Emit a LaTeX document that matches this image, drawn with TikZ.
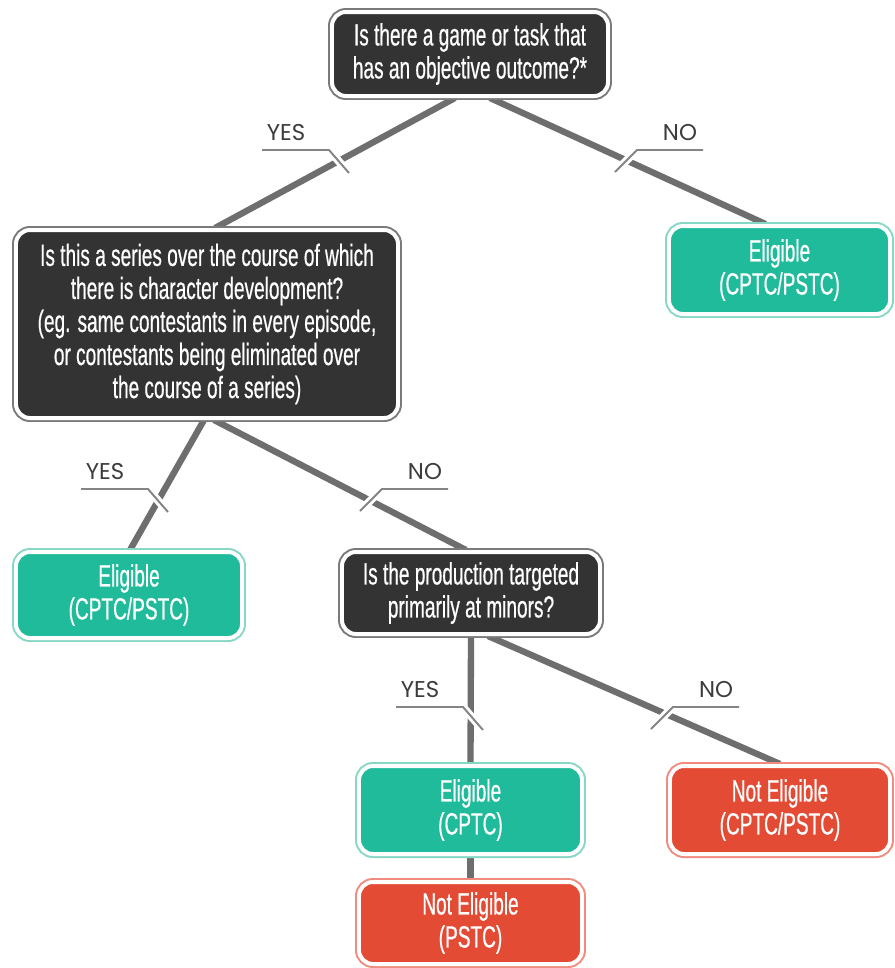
\documentclass[tikz,border=0pt]{standalone}
\usepackage{fontspec}
\newfontfamily\boxfont{Liberation Sans}[FakeStretch=0.62, FakeBold=0.5]
\newfontfamily\lblfont{Poppins}
\usetikzlibrary{calc,backgrounds}

\definecolor{darkbox}{HTML}{333333}
\definecolor{darkrim}{HTML}{7A7A7A}
\definecolor{tealbox}{HTML}{20BB9B}
\definecolor{tealrim}{HTML}{86D8C5}
\definecolor{redbox}{HTML}{E44B34}
\definecolor{redrim}{HTML}{F08C7F}
\definecolor{wire}{HTML}{6E6E6E}
\definecolor{lbltext}{HTML}{3C3C3C}

\tikzset{
  box/.style={rounded corners=0.28cm, text=white, align=center, inner sep=0pt,
    font=\boxfont\fontsize{17.5}{18.8}\selectfont, draw=white, line width=2.27pt},
  question/.style={box, fill=darkbox, preaction={draw=darkrim, line width=4.54pt}},
  eligible/.style={box, fill=tealbox, preaction={draw=tealrim, line width=4.54pt}},
  noteligible/.style={box, fill=redbox, preaction={draw=redrim, line width=4.54pt}},
  wireline/.style={draw=wire, line width=3.6pt},
  lbl/.style={text=lbltext, font=\lblfont\fontsize{13}{15}\selectfont, inner sep=0pt},
  tick/.style={draw=wire!85, line width=1.1pt, preaction={draw=white, line width=4.5pt}}
}

% YES / NO tags: name, x, y
\newcommand{\yestag}[3]{%
  \node[lbl] (#1) at (#2,#3) {YES};
  \draw[tick] ({#2-24},{#3+17}) -- ({#2+43},{#3+17}) -- ({#2+63},{#3+40});
}
\newcommand{\notag}[3]{%
  \node[lbl] (#1) at (#2,#3) {NO};
  \draw[tick] ({#2+23},{#3+17}) -- ({#2-43},{#3+17}) -- ({#2-65},{#3+39});
}

\begin{document}
\begin{tikzpicture}[x=0.02cm, y=-0.02cm]
  \useasboundingbox (0,0) rectangle (894,968);

  % questions
  \node[question, minimum width=276*0.02cm, minimum height=84*0.02cm] (q1) at (470,54)
    {Is there a game or task that\\has an objective outcome?*};
  \node[question, minimum width=382*0.02cm, minimum height=188*0.02cm] (q2) at (207,324)
    {Is this a series over the course of which\\there is character development?\\(eg. same contestants in every episode,\\or contestants being eliminated over\\the course of a series)};
  \node[question, minimum width=258*0.02cm, minimum height=82*0.02cm] (q3) at (471,593)
    {Is the production targeted\\primarily at minors?};

  % outcomes
  \node[eligible, minimum width=221*0.02cm, minimum height=88*0.02cm] (e1) at (779.5,270)
    {Eligible\\(CPTC/PSTC)};
  \node[eligible, minimum width=226*0.02cm, minimum height=86*0.02cm] (e2) at (129,595)
    {Eligible\\(CPTC/PSTC)};
  \node[eligible, minimum width=223*0.02cm, minimum height=88*0.02cm] (e3) at (470.5,810)
    {Eligible\\(CPTC)};
  \node[noteligible, minimum width=220*0.02cm, minimum height=88*0.02cm] (n1) at (780,810)
    {Not Eligible\\(CPTC/PSTC)};
  \node[noteligible, minimum width=223*0.02cm, minimum height=82*0.02cm] (n2) at (470.5,923)
    {Not Eligible\\(PSTC)};

  \begin{scope}[on background layer]
    \fill[white] (0,0) rectangle (894,968);
    \draw[wireline] ($(q1.south)+(-15,0)$) -- ($(q2.north)+(8,0)$);
    \draw[wireline] ($(q1.south)+(20,0)$) -- ($(e1.north)+(-14,0)$);
    \draw[wireline] ($(q2.south)+(-3,0)$) -- ($(e2.north)+(1,0)$);
    \draw[wireline] ($(q2.south)+(7,0)$) -- ($(q3.north)+(-5,0)$);
    \draw[wireline] (q3.south) -- (e3.north);
    \draw[wireline] ($(q3.south)+(17,0)$) -- (n1.north);
    \draw[wireline] (e3.south) -- (n2.north);
  \end{scope}

  \yestag{y1}{286}{133}
  \notag{o1}{680}{133}
  \yestag{y2}{105}{472}
  \notag{o2}{425}{472}
  \yestag{y3}{420}{690}
  \notag{o3}{716}{690}
\end{tikzpicture}
\end{document}
